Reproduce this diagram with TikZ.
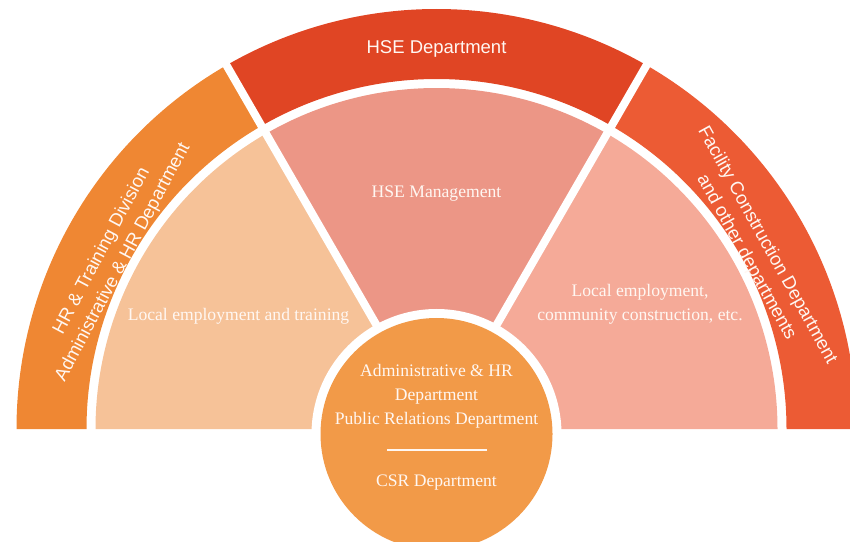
\documentclass[tikz,border=0pt]{standalone}
\usepackage{fontspec}
\setmainfont{Liberation Serif}
\setsansfont{Liberation Sans}
\definecolor{bandL}{RGB}{239,135,51}
\definecolor{bandT}{RGB}{224,69,36}
\definecolor{bandR}{RGB}{236,91,52}
\definecolor{secL}{RGB}{246,194,152}
\definecolor{secM}{RGB}{236,150,134}
\definecolor{secR}{RGB}{245,170,152}
\definecolor{hub}{RGB}{242,154,72}
\definecolor{txt}{RGB}{255,247,242}
\tikzset{
  sanslabel/.style={text=txt, font=\sffamily\fontsize{18.5}{24.5}\selectfont, inner sep=0pt},
  seriflabel/.style={text=txt, font=\fontsize{17.6}{24}\selectfont, inner sep=0pt},
  gapline/.style={white, line width=8pt}
}
\begin{document}
\begin{tikzpicture}[x=1pt,y=1pt]
\useasboundingbox (0,0) rectangle (850,541);
\clip (0,0) rectangle (850,541);
\begin{scope}[shift={(436.5,112)}]
  % outer ring
  \fill[bandL] (180:420pt) arc[start angle=180,end angle=120,radius=420pt] -- (120:350pt) arc[start angle=120,end angle=180,radius=350pt] -- cycle;
  \fill[bandT] (120:420pt) arc[start angle=120,end angle=60,radius=420pt] -- (60:350pt) arc[start angle=60,end angle=120,radius=350pt] -- cycle;
  \fill[bandR] (60:420pt) arc[start angle=60,end angle=0,radius=420pt] -- (0:350pt) arc[start angle=0,end angle=60,radius=350pt] -- cycle;
  % inner sectors
  \fill[secL] (0,0) -- (180:341pt) arc[start angle=180,end angle=120,radius=341pt] -- cycle;
  \fill[secM] (0,0) -- (120:341pt) arc[start angle=120,end angle=60,radius=341pt] -- cycle;
  \fill[secR] (0,0) -- (60:341pt) arc[start angle=60,end angle=0,radius=341pt] -- cycle;
  % gaps
  \coordinate (o) at (0,0);
  \coordinate (g1) at (120:440pt);
  \coordinate (g2) at (60:440pt);
  \draw[gapline] (o) -- (g1);
  \draw[gapline] (o) -- (g2);
  % hub
  \fill[white] (0,-5) circle[radius=125pt];
  \fill[hub] (0,-5) circle[radius=116pt];
  % band labels
  \node[sanslabel, rotate=62] (hr1) at (152:379pt) {HR \& Training Division};
  \node[sanslabel, rotate=62] (hr2) at (152:355pt) {Administrative \& HR Department};
  \node[sanslabel, rotate=-61] (fc1) at (29:378pt) {Facility Construction Department};
  \node[sanslabel, rotate=-61] (fc2) at (29:354pt) {and other departments};
\end{scope}
\node[sanslabel, anchor=base] (hse) at (436.5,487) {HSE Department};
\node[seriflabel, anchor=base] (hsem) at (436.5,343) {HSE Management};
\node[seriflabel, anchor=base] (loc) at (238.5,220.5) {Local employment and training};
\node[seriflabel, anchor=base] (loc2a) at (640,244.5) {Local employment,};
\node[seriflabel, anchor=base] (loc2b) at (640,221) {community construction, etc.};
\node[seriflabel, anchor=base] (h1) at (436.5,164.5) {Administrative \& HR};
\node[seriflabel, anchor=base] (h2) at (436.5,141) {Department};
\node[seriflabel, anchor=base] (h3) at (436.5,117) {Public Relations Department};
\coordinate (d1) at (387,91);
\coordinate (d2) at (487,91);
\draw[txt, line width=1.4pt] (d1) -- (d2);
\node[seriflabel, anchor=base] (csr) at (436.5,54.5) {CSR Department};
\end{tikzpicture}
\end{document}
